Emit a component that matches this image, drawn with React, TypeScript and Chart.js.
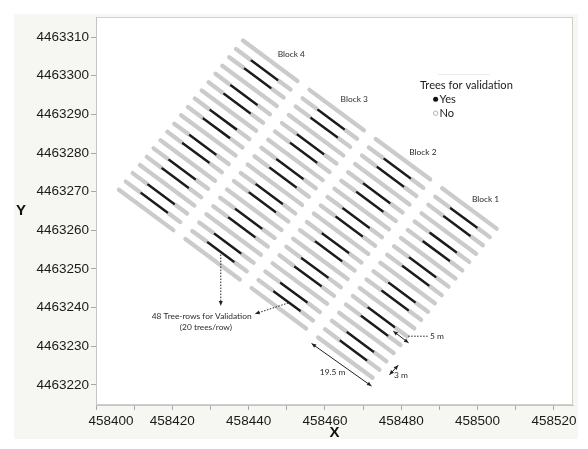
import { useEffect, useRef } from 'react';
import { Chart, registerables } from 'chart.js';

Chart.register(...registerables);

// ---- data (UTM metres) ----
// first tree of every tree-row (row 0 = north-east-most row)
const rowStartX = [458438.5, 458436.7, 458434.9, 458433.1, 458431.3, 458429.5, 458427.7, 458425.9, 458424.1, 458422.3, 458420.5, 458418.7, 458416.9, 458415.1, 458413.3, 458411.5, 458409.6, 458407.8, 458406.0];
const rowStartY = [4463309.1, 4463306.9, 4463304.8, 4463302.6, 4463300.5, 4463298.3, 4463296.2, 4463294.1, 4463291.9, 4463289.8, 4463287.6, 4463285.5, 4463283.3, 4463281.2, 4463279.0, 4463276.9, 4463274.8, 4463272.6, 4463270.5];
const rowBearingDeg = 36.2; // rows run towards the east-south-east
const blockNames = ['Block 4', 'Block 3', 'Block 2', 'Block 1'];
const blockStart = [0, 21.6, 43.1, 64.7]; // metres along the row
const blockLength = 17.7;
const validationRows = [1, 2, 4, 5, 7, 8, 10, 11, 13, 14, 16, 17];
const validationStart = 5.1; // metres from block start
const validationLength = 8.3;
const treeSpacing = 0.44;
const xTickValues = [458400, 458420, 458440, 458460, 458480, 458500, 458520];
const yTickValues = [4463220, 4463230, 4463240, 4463250, 4463260, 4463270, 4463280, 4463290, 4463300, 4463310];

// ---- annotation anchors (data coordinates) ----
const blockLabelAt = [
  [458447.6, 4463305.6],
  [458464.1, 4463293.9],
  [458482.1, 4463280.3],
  [458498.5, 4463268.1],
];
const legendAt = { titleX: 458484.9, titleY: 4463297.5, markX: 458489.0, textX: 458490.0, yesY: 4463293.9, noY: 4463290.3 };

const rad = (rowBearingDeg * Math.PI) / 180;
const ux = Math.cos(rad);
const uy = -Math.sin(rad);
const pt = (r: number, s: number) => ({ x: rowStartX[r] + ux * s, y: rowStartY[r] + uy * s });
const brk = { x: NaN, y: NaN };

const noData: { x: number; y: number }[] = [];
const yesData: { x: number; y: number }[] = [];
rowStartX.forEach((_, r) => {
  blockStart.forEach((b0) => {
    const b1 = b0 + blockLength;
    if (validationRows.includes(r)) {
      const v0 = b0 + validationStart;
      const v1 = v0 + validationLength;
      noData.push(pt(r, b0), pt(r, v0 - treeSpacing), brk, pt(r, v1 + treeSpacing), pt(r, b1), brk);
      yesData.push(pt(r, v0), pt(r, v1), brk);
    } else {
      noData.push(pt(r, b0), pt(r, b1), brk);
    }
  });
});

const NOTE_FONT = 'Lato, "Open Sans", sans-serif';
const TICK_FAMILY = '"Liberation Sans", Arial, sans-serif';

function head(ctx: CanvasRenderingContext2D, x0: number, y0: number, x1: number, y1: number, size: number) {
  const a = Math.atan2(y1 - y0, x1 - x0);
  ctx.beginPath();
  ctx.moveTo(x1, y1);
  ctx.lineTo(x1 - size * Math.cos(a - 0.42), y1 - size * Math.sin(a - 0.42));
  ctx.lineTo(x1 - size * Math.cos(a + 0.42), y1 - size * Math.sin(a + 0.42));
  ctx.closePath();
  ctx.fill();
}

function arrow(ctx: CanvasRenderingContext2D, x0: number, y0: number, x1: number, y1: number, dotted: boolean, both: boolean) {
  ctx.save();
  ctx.strokeStyle = '#222';
  ctx.fillStyle = '#222';
  ctx.lineWidth = 1;
  if (dotted) ctx.setLineDash([1.5, 1.5]);
  ctx.beginPath();
  ctx.moveTo(x0, y0);
  ctx.lineTo(x1, y1);
  ctx.stroke();
  ctx.setLineDash([]);
  head(ctx, x0, y0, x1, y1, 5);
  if (both) head(ctx, x1, y1, x0, y0, 5);
  ctx.restore();
}

function fitSize(ctx: CanvasRenderingContext2D, text: string, width: number, family: string, weight = '') {
  ctx.font = `${weight} 10px ${family}`;
  return (10 * width) / ctx.measureText(text).width;
}

const decorPlugin = {
  id: 'decor',
  beforeDraw(chart: any) {
    const { ctx, chartArea: a } = chart;
    ctx.save();
    ctx.fillStyle = '#ffffff';
    ctx.fillRect(0, 0, chart.width, chart.height);
    ctx.fillStyle = '#f6f6f2';
    ctx.fillRect(14, 14, 564, 425);
    ctx.fillStyle = '#ffffff';
    ctx.fillRect(a.left, a.top, a.right - a.left, a.bottom - a.top);
    ctx.strokeStyle = '#d0d0cc';
    ctx.lineWidth = 1;
    ctx.strokeRect(a.left + 0.5, a.top + 0.5, a.right - a.left - 1, a.bottom - a.top - 1);
    ctx.restore();
  },
  afterDatasetsDraw(chart: any) {
    const { ctx } = chart;
    const X = (v: number) => chart.scales.x.getPixelForValue(v);
    const Y = (v: number) => chart.scales.y.getPixelForValue(v);
    ctx.save();
    const fs = fitSize(ctx, '48 Tree-rows for Validation', 100, NOTE_FONT);
    ctx.font = `${fs}px ${NOTE_FONT}`;
    ctx.fillStyle = '#2b2b2b';
    ctx.textBaseline = 'middle';
    ctx.textAlign = 'left';
    blockNames.forEach((n, i) => ctx.fillText(n, X(blockLabelAt[i][0]), Y(blockLabelAt[i][1])));

    ctx.textAlign = 'center';
    ctx.fillText('48 Tree-rows for Validation', X(458427.7), Y(4463237.7));
    ctx.fillText('(20 trees/row)', X(458428.8), Y(4463234.8));
    ctx.fillText('19.5 m', X(458462.0), Y(4463223.2));
    ctx.textAlign = 'left';
    ctx.fillText('3 m', X(458478.1), Y(4463222.5));
    ctx.fillText('5 m', X(458487.5), Y(4463232.6));

    arrow(ctx, X(458432.7), Y(4463254.5), X(458432.7), Y(4463240.5), true, false);
    arrow(ctx, X(458450.4), Y(4463241.2), X(458441.7), Y(4463238.4), true, false);
    arrow(ctx, X(458456.5), Y(4463230.7), X(458472.2), Y(4463219.7), false, true);
    arrow(ctx, X(458476.9), Y(4463222.6), X(458479.2), Y(4463225.1), false, true);
    arrow(ctx, X(458477.9), Y(4463233.9), X(458481.9), Y(4463230.9), false, true);
    ctx.save();
    ctx.strokeStyle = '#222';
    ctx.lineWidth = 1;
    ctx.setLineDash([1.5, 1.5]);
    ctx.beginPath();
    ctx.moveTo(X(458481.8), Y(4463232.6));
    ctx.lineTo(X(458487.0), Y(4463232.6));
    ctx.stroke();
    ctx.restore();

    // legend
    const lf = fitSize(ctx, 'Trees for validation', 93, NOTE_FONT);
    ctx.font = `${lf}px ${NOTE_FONT}`;
    ctx.fillStyle = '#1a1a1a';
    ctx.textAlign = 'left';
    ctx.fillText('Trees for validation', X(legendAt.titleX), Y(legendAt.titleY));
    ctx.fillText('Yes', X(legendAt.textX), Y(legendAt.yesY));
    ctx.fillText('No', X(legendAt.textX), Y(legendAt.noY));
    ctx.beginPath();
    ctx.arc(X(legendAt.markX), Y(legendAt.yesY), 2.5, 0, Math.PI * 2);
    ctx.fillStyle = '#111';
    ctx.fill();
    ctx.beginPath();
    ctx.arc(X(legendAt.markX), Y(legendAt.noY), 2.2, 0, Math.PI * 2);
    ctx.strokeStyle = '#b5b5b5';
    ctx.lineWidth = 1;
    ctx.stroke();
    ctx.strokeStyle = '#ececec';
    ctx.beginPath();
    ctx.moveTo(X(458489.6), Y(4463300.3));
    ctx.lineTo(X(458503.2), Y(4463300.3));
    ctx.stroke();
    ctx.restore();
  },
  afterDraw(chart: any) {
    const { ctx, chartArea: a } = chart;
    ctx.save();
    ctx.fillStyle = '#111';
    ctx.font = `bold 15px ${TICK_FAMILY}`;
    ctx.textAlign = 'center';
    ctx.textBaseline = 'middle';
    ctx.fillText('Y', 21, (a.top + a.bottom) / 2);
    ctx.fillText('X', (a.left + a.right) / 2, 433);
    ctx.restore();
  },
};

export default function App() {
  const ref = useRef<HTMLCanvasElement>(null);
  useEffect(() => {
    const chart = new Chart(ref.current as HTMLCanvasElement, {
      type: 'scatter',
      data: {
        datasets: [
          {
            label: 'Yes',
            data: yesData,
            showLine: true,
            spanGaps: false,
            borderColor: '#1c1c1c',
            borderWidth: 2.5,
            borderCapStyle: 'round',
            pointRadius: 0,
            order: 0,
          },
          {
            label: 'No',
            data: noData,
            showLine: true,
            spanGaps: false,
            borderColor: '#cbcbcb',
            borderWidth: 4.3,
            borderCapStyle: 'round',
            pointRadius: 0,
            order: 1,
          },
        ],
      },
      options: {
        animation: false,
        responsive: false,
        devicePixelRatio: 1,
        events: [],
        layout: { padding: { left: 0, top: 17, right: 15, bottom: 0 } },
        plugins: { legend: { display: false }, tooltip: { enabled: false } },
        scales: {
          x: {
            type: 'linear',
            position: 'bottom',
            min: 458400,
            max: 458525,
            afterFit: (s: any) => {
              s.height = 44;
            },
            grid: { display: true, drawOnChartArea: false, drawTicks: true, tickLength: 5, color: '#a8a8a8' },
            border: { display: true, color: '#c4c4c4' },
            ticks: {
              stepSize: 10,
              includeBounds: false,
              autoSkip: false,
              maxRotation: 0,
              padding: 3,
              color: '#1a1a1a',
              font: { family: TICK_FAMILY, size: 13.5 },
              callback: (v: any) => {
                const n = Math.round(Number(v));
                if (!xTickValues.includes(n)) return '';
                return n === xTickValues[0] ? '        ' + String(n) : String(n);
              },
            },
          },
          y: {
            type: 'linear',
            position: 'left',
            min: 4463214.8,
            max: 4463315.2,
            afterFit: (s: any) => {
              s.width = 96;
            },
            grid: { display: true, drawOnChartArea: false, drawTicks: true, tickLength: 5, color: '#a8a8a8' },
            border: { display: true, color: '#c4c4c4' },
            ticks: {
              stepSize: 10,
              includeBounds: false,
              autoSkip: false,
              padding: 2,
              color: '#1a1a1a',
              font: { family: TICK_FAMILY, size: 13.5 },
              callback: (v: any) => {
                const n = Math.round(Number(v));
                return yTickValues.includes(n) ? String(n) : '';
              },
            },
          },
        },
      },
      plugins: [decorPlugin],
    } as any);
    return () => chart.destroy();
  }, []);
  return (
    <div style={{ position: 'absolute', left: 0, top: 0, width: 588, height: 449, background: '#fff' }}>
      <canvas ref={ref} width={588} height={449} style={{ display: 'block', width: 588, height: 449 }} />
    </div>
  );
}
